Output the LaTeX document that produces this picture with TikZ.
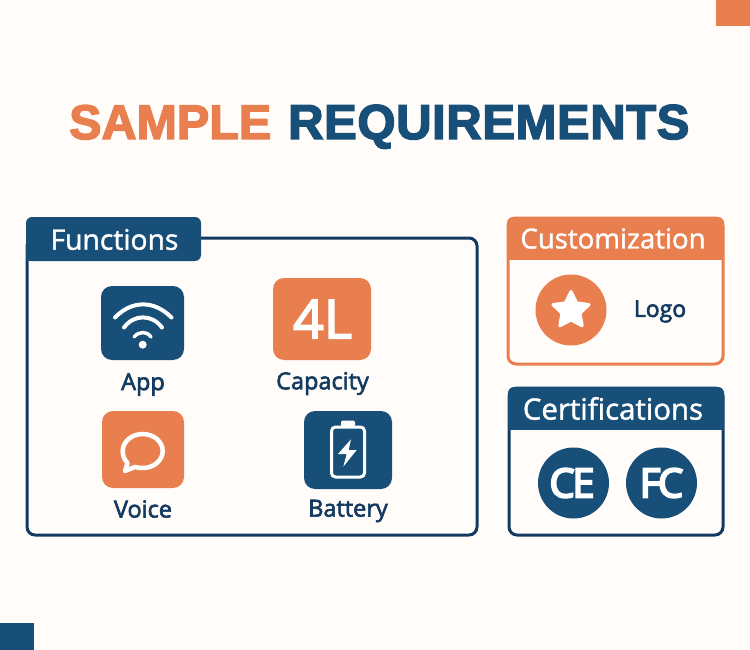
\documentclass[tikz,border=0pt]{standalone}
\usepackage{fontspec}
\setmainfont{Open Sans}
\newfontfamily\titlefontA{Liberation Sans Bold}[FakeBold=3]
\newfontfamily\titlefontB{Liberation Sans Bold}[FakeBold=3,LetterSpace=1.2]
\newfontfamily\medfont{Open Sans}[FakeBold=2.6]
\newfontfamily\fourfont{Open Sans}[FakeBold=3]
\newfontfamily\headfont{Open Sans}[FakeBold=1.4]
\newfontfamily\sealfont{Open Sans}[FakeBold=5,LetterSpace=-6]
\usetikzlibrary{shapes.geometric}
\definecolor{bgc}{HTML}{FFFCF9}
\definecolor{navy}{HTML}{174F78}
\definecolor{ink}{HTML}{133A60}
\definecolor{orange}{HTML}{E97F4E}
\tikzset{
  x=1pt,y=-1pt,
  frame/.style={draw,line width=3pt,rounded corners=8pt,inner sep=0pt,fill=bgc},
  tile/.style={rounded corners=11pt,inner sep=0pt,draw=none},
  disc/.style={circle,inner sep=0pt,minimum size=71pt,draw=none},
  lbl/.style={text=ink,inner sep=0pt,font=\medfont\fontsize{23.5}{25}\selectfont},
  head/.style={text=white,inner sep=0pt},
  white line/.style={draw=white,line cap=round,line join=round,fill=none}
}
\begin{document}
\begin{tikzpicture}
\useasboundingbox (0,0) rectangle (750,650);
\fill[bgc] (0,0) rectangle (750,650);
\fill[orange] (716,0) rectangle (750,26);
\fill[navy] (0,623) rectangle (34,650);
% title
\node[inner sep=0pt,anchor=base west,text=orange,font=\titlefontA\fontsize{48.5}{50}\selectfont] (t1) at (69,139) {SAMPLE};
\node[inner sep=0pt,anchor=base west,text=navy,font=\titlefontB\fontsize{49}{50}\selectfont] (t2) at (288,139) {REQUIREMENTS};
% functions
\node[frame,draw=ink,minimum width=450pt,minimum height=297pt] (fn) at (252,386.5) {};
\fill[navy,rounded corners=6pt] (26,261) -- (26,217) -- (201,217) -- (201,261) -- cycle;
\fill[navy] (26,250) rectangle (36,261);
\node[head,font=\headfont\fontsize{28.3}{30}\selectfont] (fnh) at (114.5,239.5) {Functions};
% app
\node[tile,fill=navy,minimum width=83pt,minimum height=74pt] (app) at (142.5,323) {};
\draw[white line,line width=4pt] (115,317.5) .. controls (132,300) and (154,300) .. (171.5,317.5);
\draw[white line,line width=4pt] (124,327.5) .. controls (134,314) and (152,314) .. (162,327.5);
\draw[white line,line width=3.5pt] (134,337) .. controls (139,331) and (147,331) .. (151,337);
\fill[white] (142.7,344.7) circle (4);
\node[lbl] (appl) at (143,384.5) {App};
% capacity
\node[tile,fill=orange,minimum width=98pt,minimum height=82pt] (cap) at (322,319) {};
\node[inner sep=0pt,text=white,font=\fourfont\fontsize{54}{56}\selectfont] (capt) at (322.5,319) {4L};
\node[lbl] (capl) at (322.5,383.5) {Capacity};
% voice
\node[tile,fill=orange,minimum width=82pt,minimum height=77pt] (voice) at (143,449.5) {};
\draw[white line,line width=4.5pt] (142.7,468) .. controls (153.7,468) and (162.7,460.4) .. (162.7,451)
  .. controls (162.7,441.6) and (153.7,434) .. (142.7,434)
  .. controls (131.7,434) and (122.7,441.6) .. (122.7,451)
  .. controls (122.7,456) and (124.5,460) .. (127.5,463)
  -- (125,471) -- (135,467) .. controls (137.5,467.7) and (140,468) .. (142.7,468) -- cycle;
\node[lbl] (voicel) at (143,509) {Voice};
% battery
\node[tile,fill=navy,minimum width=88pt,minimum height=78pt] (bat) at (348,450) {};
\draw[white line,line width=3pt,rounded corners=4pt] (331.5,427) rectangle (364.5,477);
\fill[white,rounded corners=2pt] (341,427) -- (341,420.5) -- (355,420.5) -- (355,427) -- cycle;
\fill[white,line join=round] (351,439.3) -- (338,454) -- (346.7,454) -- (343.3,466.7) -- (356.7,450) -- (348.7,450) -- cycle;
\node[lbl] (batl) at (348,511) {Battery};
% customization
\node[frame,draw=orange,minimum width=215pt,minimum height=146pt] (cu) at (615.5,291) {};
\fill[orange,rounded corners=6pt] (507,259) -- (507,217) -- (724,217) -- (724,259) -- cycle;
\fill[orange] (507,250) rectangle (724,260);
\node[head,font=\headfont\fontsize{27.6}{30}\selectfont] (cuh) at (613,238.5) {Customization};
\node[disc,fill=orange] (logo) at (571,310) {};
\node[star,star points=5,star point ratio=2.0,minimum size=38pt,inner sep=0pt,fill=white,draw=white,line width=3pt,line join=round] (st) at (571,310.5) {};
\node[text=ink,inner sep=0pt,font=\medfont\fontsize{23}{25}\selectfont] (logol) at (660,311.5) {Logo};
% certifications
\node[frame,draw=ink,minimum width=214pt,minimum height=147pt] (ce) at (616,461.5) {};
\fill[navy,rounded corners=6pt] (508,429) -- (508,387) -- (724,387) -- (724,429) -- cycle;
\fill[navy] (508,420) rectangle (724,430);
\node[head,font=\headfont\fontsize{29.4}{30}\selectfont] (ceh) at (613,408.5) {Certifications};
\node[disc,fill=navy] (cec) at (573.5,483) {};
\node[inner sep=0pt,text=white,font=\sealfont\fontsize{40}{42}\selectfont] (cet) at (572,483) {CE};
\node[disc,fill=navy,text=white,font=\sealfont\fontsize{40}{42}\selectfont] (fcc) at (661.5,483) {FC};
\end{tikzpicture}
\end{document}
